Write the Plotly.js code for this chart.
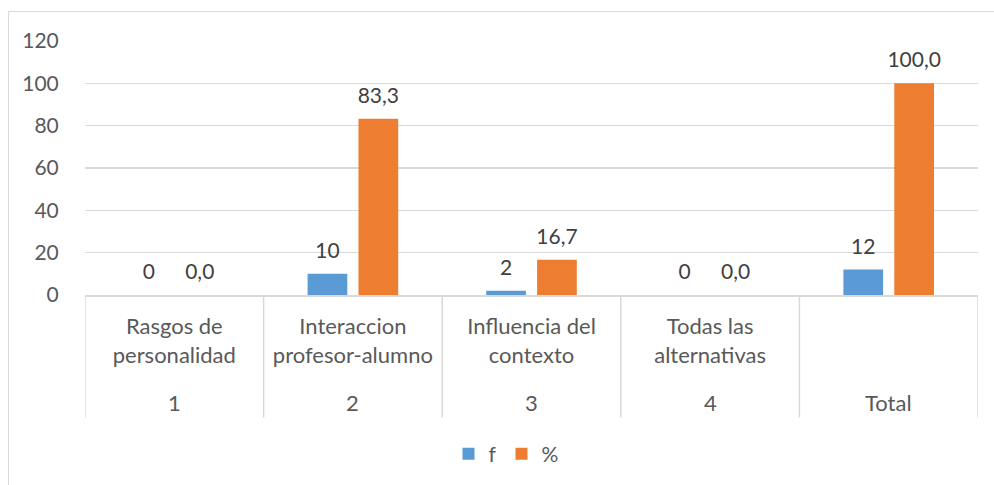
<!DOCTYPE html>
<html>
<head>
<meta charset="utf-8">
<script src="https://cdn.plot.ly/plotly-3.0.1.min.js"></script>
<style>
  html, body { margin: 0; padding: 0; background: #fff; overflow: hidden; }
  #chart { width: 994px; height: 485px; }
  #frame { position: absolute; left: 8px; top: 11px; width: 1200px; height: 600px;
           border: 1px solid #D9D9D9; pointer-events: none; box-sizing: border-box; }
</style>
</head>
<body>
<div id="chart"></div>
<div id="frame"></div>
<script>
const categoryNumbers = ["1", "2", "3", "4", "Total"];
const categoryNames = ["Rasgos de<br>personalidad", "Interaccion<br>profesor-alumno", "Influencia del<br>contexto", "Todas las<br>alternativas", ""];
const seriesF = [0, 10, 2, 0, 12];
const seriesPct = [0.0, 83.3, 16.7, 0.0, 100.0];
const yTicks = [0, 20, 40, 60, 80, 100, 120];

const FONT = "Lato, 'Open Sans', sans-serif";
const TICK = "#595959";
const LABEL = "#404040";

const traces = [
  {
    type: "bar", name: "f", x: categoryNumbers, y: seriesF,
    marker: { color: "#5B9BD5" },
    texttemplate: "%{y}", textposition: "outside", cliponaxis: false,
    constraintext: "none",
    textfont: { family: FONT, size: 21, color: LABEL },
    hoverinfo: "skip"
  },
  {
    type: "bar", name: "%", x: categoryNumbers, y: seriesPct,
    marker: { color: "#ED7D31" },
    texttemplate: "%{y:.1f}", textposition: "outside", cliponaxis: false,
    constraintext: "none",
    textfont: { family: FONT, size: 21, color: LABEL },
    hoverinfo: "skip"
  }
];

const plotTop = 41, plotBottom = 296;
const plotH = plotBottom - plotTop;
const pix = (py) => (plotBottom - py) / plotH;

const shapes = [];
for (let k = 0; k <= categoryNumbers.length; k++) {
  shapes.push({
    type: "line", xref: "x", yref: "paper",
    x0: k - 0.5, x1: k - 0.5, y0: 0, y1: pix(419),
    line: { color: "#D9D9D9", width: 1.5 }, layer: "below"
  });
}

const annotations = categoryNumbers.map((c, i) => ({
  xref: "x", yref: "paper", x: i, y: pix(404),
  text: c, showarrow: false, yanchor: "middle", xanchor: "center",
  font: { family: FONT, size: 22, color: TICK }
}));

const layout = {
  width: 994, height: 485,
  margin: { l: 85, r: 16, t: plotTop, b: 485 - plotBottom },
  paper_bgcolor: "#ffffff", plot_bgcolor: "#ffffff",
  separators: ",.",
  barmode: "group", bargap: 0.43, bargroupgap: 0.22,
  font: { family: FONT, size: 21, color: TICK },
  xaxis: {
    type: "category",
    tickvals: categoryNumbers, ticktext: categoryNames,
    showgrid: false, zeroline: false,
    showline: true, linecolor: "#D9D9D9", linewidth: 1.5,
    ticks: "outside", ticklen: 11, tickcolor: "rgba(0,0,0,0)",
    tickfont: { family: FONT, size: 22, color: TICK },
    range: [-0.5, categoryNumbers.length - 0.5]
  },
  yaxis: {
    range: [0, 120], tickvals: yTicks,
    showgrid: true, gridcolor: "#D9D9D9", gridwidth: 1.5,
    zeroline: false, showline: false,
    ticks: "outside", ticklen: 21, tickcolor: "rgba(0,0,0,0)",
    tickfont: { family: FONT, size: 21, color: TICK }
  },
  showlegend: true,
  legend: {
    orientation: "h", x: (506 - 85) / (978 - 85), xanchor: "center",
    y: pix(454), yanchor: "middle",
    font: { family: FONT, size: 21, color: TICK },
    itemwidth: 30, tracegroupgap: 0
  },
  shapes: shapes,
  annotations: annotations
};

Plotly.newPlot("chart", traces, layout, { displayModeBar: false, staticPlot: true }).then(function (gd) {
  // lift the outside data labels a little, as in the reference
  gd.querySelectorAll("text.bartext").forEach(function (el) {
    const t = el.getAttribute("transform") || "";
    el.setAttribute("transform", "translate(0,-9) " + t);
  });
});
</script>
</body>
</html>
